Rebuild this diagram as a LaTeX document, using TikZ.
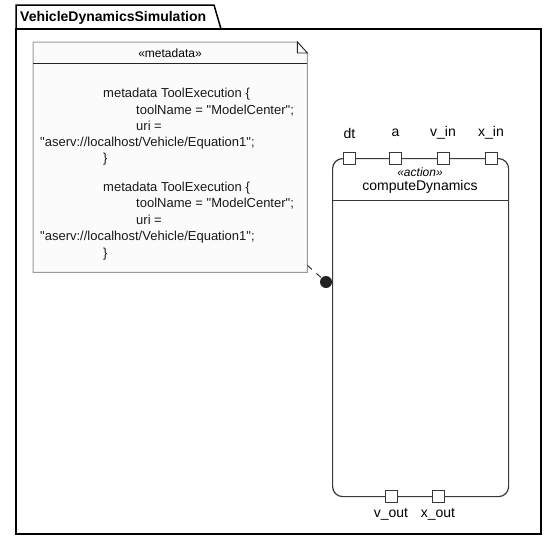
\documentclass[tikz,border=0pt]{standalone}
\usepackage{fontspec}
\setmainfont{Liberation Sans}[Ligatures=TeXOff]
\definecolor{actline}{HTML}{383838}
\definecolor{notefill}{HTML}{FBFBFB}
\definecolor{noteline}{HTML}{9A9A9A}
\definecolor{dotc}{HTML}{222222}
\newcommand{\myq}{\char34\relax}
\begin{document}
\begin{tikzpicture}[x=1pt,y=-1pt,
  pkg/.style={draw=black, line width=1.5pt},
  portbox/.style={draw=actline, fill=white, minimum size=12pt, inner sep=0pt, line width=1pt},
  lbl/.style={font=\fontsize{14}{16}\selectfont, inner sep=0pt},
  notetxt/.style={font=\fontsize{13}{15}\selectfont, anchor=base west, inner sep=0pt, text=black!90},
  notebd/.style={draw=noteline, line width=1pt}]
\useasboundingbox (0,0) rectangle (556,541);
% package
\draw[pkg] (16,29) -- (16,5) -- (214,5) -- (221,29);
\draw[pkg] (16,29) rectangle (541,534);
\node[font=\bfseries\fontsize{14}{16}\selectfont, anchor=west, inner sep=0pt] (pkgname) at (20,17.5) {VehicleDynamicsSimulation};
% note
\node[anchor=north west, minimum width=274pt, minimum height=230pt, inner sep=0pt] (note) at (33,42) {};
\draw[notebd, fill=notefill] (note.north west) -- ([xshift=-10pt]note.north east) -- ([yshift=-11pt]note.north east) -- (note.south east) -- (note.south west) -- cycle;
\draw[draw=black!85, line width=0.9pt, fill=notefill] ([xshift=-10pt]note.north east) -- ([xshift=-10pt,yshift=-11pt]note.north east) -- ([yshift=-11pt]note.north east) -- cycle;
\draw[draw=black!85, line width=1pt] (33,63) -- (307,63);
\node[font=\fontsize{12}{14}\selectfont, inner sep=0pt] (notehead) at (170,53) {«metadata»};
\node[notetxt] (m1a) at (103,97.5) {metadata ToolExecution \{};
\node[notetxt] (m1b) at (136,114.5) {toolName = \myq ModelCenter\myq;};
\node[notetxt] (m1c) at (136,130.5) {uri =};
\node[notetxt] (m1d) at (40,146.5) {\myq aserv://localhost/Vehicle/Equation1\myq;};
\node[notetxt] (m1e) at (103,162.5) {\}};
\node[notetxt] (m2a) at (103,191.5) {metadata ToolExecution \{};
\node[notetxt] (m2b) at (136,207.5) {toolName = \myq ModelCenter\myq;};
\node[notetxt] (m2c) at (136,224) {uri =};
\node[notetxt] (m2d) at (40,240.5) {\myq aserv://localhost/Vehicle/Equation1\myq;};
\node[notetxt] (m2e) at (103,257) {\}};
% action
\node[draw=actline, fill=white, rounded corners=10pt, line width=1.2pt, minimum width=176pt, minimum height=338pt, anchor=north west, inner sep=0pt] (act) at (332,158) {};
\node[font=\itshape\fontsize{12}{14}\selectfont, inner sep=0pt] (stereo) at (420,172) {«action»};
\node[lbl] (actname) at (420,187) {computeDynamics};
\draw[actline, line width=1pt] (332,200) -- (508,200);
% ports
\node[portbox] (pdt) at (349.5,158) {};
\node[portbox] (pa) at (395.5,158) {};
\node[portbox] (pvin) at (443,158) {};
\node[portbox] (pxin) at (491,158) {};
\node[lbl] at (349.5,133) {dt};
\node[lbl] at (395.5,133) {a};
\node[lbl] at (443,133) {v\_in};
\node[lbl] at (491,133) {x\_in};
\node[portbox] (pvout) at (391,496) {};
\node[portbox] (pxout) at (438,496) {};
\node[lbl] at (391,514) {v\_out};
\node[lbl] at (438,514) {x\_out};
% anchor dot and connector
\node[circle, fill=dotc, minimum size=12pt, inner sep=0pt] (dot) at (326,282) {};
\draw[actline, line width=1pt, dash pattern=on 6pt off 6pt] ([yshift=7pt]note.south east) -- (dot);
\end{tikzpicture}
\end{document}
